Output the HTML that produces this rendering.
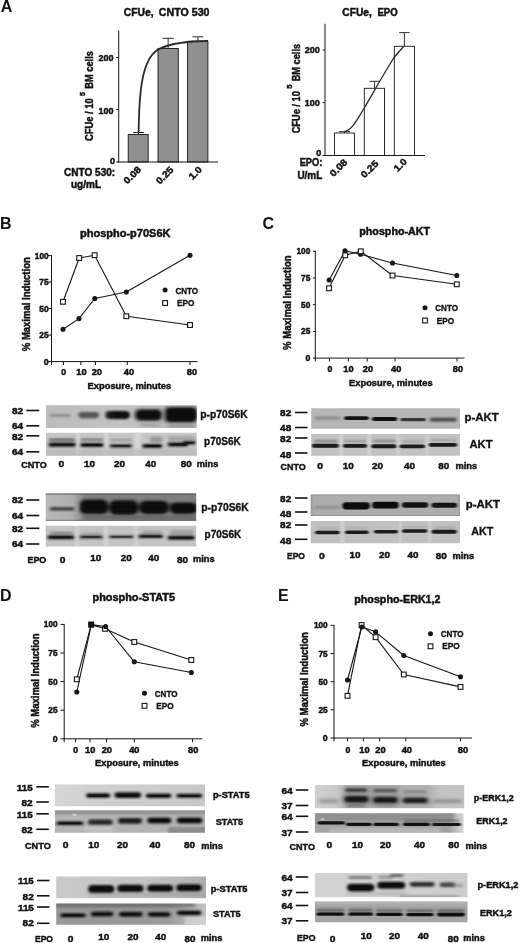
<!DOCTYPE html>
<html lang="en">
<head>
<meta charset="utf-8">
<title>Figure: CFUe and phospho-signalling, CNTO 530 vs EPO</title>
<style>
html,body{margin:0;padding:0;background:#fff;}
body{width:520px;height:943px;overflow:hidden;}
svg{display:block;}
text{font-family:"Liberation Sans",sans-serif;fill:#111;}
text.b{font-weight:bold;stroke:#111;stroke-width:0.45px;}
text.p{font-weight:bold;}
text.a{font-weight:bold;stroke:#111;stroke-width:0.35px;}
</style>
</head>
<body>
<svg width="520" height="943" viewBox="0 0 520 943">
<defs>
<filter id="bl1" x="-20%" y="-80%" width="140%" height="260%"><feGaussianBlur stdDeviation="0.9 0.7"/></filter>
<filter id="bl2" x="-20%" y="-80%" width="140%" height="260%"><feGaussianBlur stdDeviation="1.6 1.1"/></filter>
<filter id="bl3" x="-20%" y="-60%" width="140%" height="220%"><feGaussianBlur stdDeviation="2.2 1.8"/></filter>
<clipPath id="c0"><rect x="46.00" y="405.20" width="150.80" height="22.80"/></clipPath>
<linearGradient id="g0" x1="0" y1="0" x2="1" y2="0"><stop offset="0" stop-color="#bcbcbc"/><stop offset="0.5" stop-color="#c2c2c2"/><stop offset="1" stop-color="#b4b4b4"/></linearGradient>
<clipPath id="c1"><rect x="46.00" y="432.70" width="150.80" height="23.00"/></clipPath>
<clipPath id="c2"><rect x="45.70" y="493.60" width="150.50" height="27.20"/></clipPath>
<linearGradient id="g2" x1="0" y1="0" x2="1" y2="0"><stop offset="0" stop-color="#b9b9b9"/><stop offset="0.18" stop-color="#afafaf"/><stop offset="0.27" stop-color="#828282"/><stop offset="1" stop-color="#7e7e7e"/></linearGradient>
<clipPath id="c3"><rect x="45.70" y="525.80" width="150.50" height="20.80"/></clipPath>
<clipPath id="c4"><rect x="311.20" y="408.30" width="148.80" height="20.50"/></clipPath>
<clipPath id="c5"><rect x="311.20" y="434.00" width="148.80" height="21.70"/></clipPath>
<clipPath id="c6"><rect x="310.70" y="494.60" width="149.30" height="21.30"/></clipPath>
<clipPath id="c7"><rect x="310.70" y="521.00" width="149.30" height="22.20"/></clipPath>
<clipPath id="c8"><rect x="54.90" y="784.60" width="150.10" height="21.70"/></clipPath>
<linearGradient id="g8" x1="0" y1="0" x2="1" y2="0"><stop offset="0" stop-color="#d6d6d6"/><stop offset="0.3" stop-color="#cfcfcf"/><stop offset="1" stop-color="#c8c8c8"/></linearGradient>
<clipPath id="c9"><rect x="54.90" y="810.20" width="150.10" height="22.60"/></clipPath>
<clipPath id="c10"><rect x="56.20" y="876.60" width="149.80" height="21.60"/></clipPath>
<linearGradient id="g10" x1="0" y1="0" x2="1" y2="0"><stop offset="0" stop-color="#cacaca"/><stop offset="0.6" stop-color="#c2c2c2"/><stop offset="0.95" stop-color="#b2b2b2"/><stop offset="1" stop-color="#a8a8a8"/></linearGradient>
<clipPath id="c11"><rect x="56.20" y="903.50" width="149.80" height="21.30"/></clipPath>
<linearGradient id="g11" x1="0" y1="0" x2="1" y2="0"><stop offset="0" stop-color="#979797"/><stop offset="0.75" stop-color="#9a9a9a"/><stop offset="0.9" stop-color="#b8b8b8"/><stop offset="1" stop-color="#c0c0c0"/></linearGradient>
<clipPath id="c12"><rect x="314.90" y="784.90" width="149.30" height="23.30"/></clipPath>
<linearGradient id="g12" x1="0" y1="0" x2="1" y2="0"><stop offset="0" stop-color="#d0d0d0"/><stop offset="0.15" stop-color="#c9c9c9"/><stop offset="0.22" stop-color="#b2b2b2"/><stop offset="0.75" stop-color="#b0b0b0"/><stop offset="0.82" stop-color="#c2c2c2"/><stop offset="1" stop-color="#c4c4c4"/></linearGradient>
<clipPath id="c13"><rect x="314.90" y="813.20" width="148.70" height="19.60"/></clipPath>
<linearGradient id="g13" x1="0" y1="0" x2="1" y2="0"><stop offset="0" stop-color="#a6a6a6"/><stop offset="0.9" stop-color="#a2a2a2"/><stop offset="0.96" stop-color="#c8c8c8"/><stop offset="1" stop-color="#dadada"/></linearGradient>
<clipPath id="c14"><rect x="314.90" y="872.90" width="152.60" height="24.30"/></clipPath>
<linearGradient id="g14" x1="0" y1="0" x2="1" y2="0"><stop offset="0" stop-color="#d4d4d4"/><stop offset="0.5" stop-color="#d0d0d0"/><stop offset="1" stop-color="#cccccc"/></linearGradient>
<clipPath id="c15"><rect x="314.90" y="901.50" width="152.60" height="20.80"/></clipPath>
</defs>
<rect width="520" height="943" fill="#fff"/>
<text class="b" x="123.80" y="15.80" font-size="10.3" textLength="29.80" lengthAdjust="spacingAndGlyphs">CFUe,</text>
<text class="b" x="158.80" y="15.80" font-size="10.3" textLength="50.70" lengthAdjust="spacingAndGlyphs">CNTO 530</text>
<line x1="138.50" y1="132.50" x2="138.50" y2="134.50" stroke="#161616" stroke-width="0.9" stroke-linecap="butt"/>
<line x1="133.00" y1="132.50" x2="144.00" y2="132.50" stroke="#161616" stroke-width="0.9" stroke-linecap="butt"/>
<rect x="128.20" y="134.50" width="20.00" height="27.50" fill="#8f8f8f" stroke="#161616" stroke-width="0.9"/>
<line x1="168.15" y1="38.30" x2="168.15" y2="48.50" stroke="#161616" stroke-width="0.9" stroke-linecap="butt"/>
<line x1="162.50" y1="38.30" x2="173.80" y2="38.30" stroke="#161616" stroke-width="0.9" stroke-linecap="butt"/>
<rect x="158.00" y="48.50" width="20.30" height="113.50" fill="#8f8f8f" stroke="#161616" stroke-width="0.9"/>
<line x1="197.95" y1="36.80" x2="197.95" y2="41.30" stroke="#161616" stroke-width="0.9" stroke-linecap="butt"/>
<line x1="192.60" y1="36.80" x2="203.30" y2="36.80" stroke="#161616" stroke-width="0.9" stroke-linecap="butt"/>
<rect x="187.60" y="41.30" width="20.30" height="120.70" fill="#8f8f8f" stroke="#161616" stroke-width="0.9"/>
<path d="M138.6 132.5 C139.2 95 141 60 158 49.5 C170 43.5 190 41 208 41" fill="none" stroke="#2a2a2a" stroke-width="1.8"/>
<line x1="118.70" y1="30.50" x2="118.70" y2="162.50" stroke="#161616" stroke-width="1.0" stroke-linecap="butt"/>
<line x1="118.20" y1="162.00" x2="218.00" y2="162.00" stroke="#161616" stroke-width="1.0" stroke-linecap="butt"/>
<line x1="116.30" y1="162.00" x2="118.70" y2="162.00" stroke="#161616" stroke-width="1.0" stroke-linecap="butt"/>
<text class="b" x="115.00" y="163.60" font-size="9.0" text-anchor="end">0</text>
<line x1="116.30" y1="109.60" x2="118.70" y2="109.60" stroke="#161616" stroke-width="1.0" stroke-linecap="butt"/>
<text class="b" x="113.50" y="113.60" font-size="9.0" text-anchor="end">100</text>
<line x1="116.30" y1="57.50" x2="118.70" y2="57.50" stroke="#161616" stroke-width="1.0" stroke-linecap="butt"/>
<text class="b" x="113.50" y="61.00" font-size="9.0" text-anchor="end">200</text>
<text class="b" x="92.80" y="141.00" font-size="10.3" textLength="42.80" lengthAdjust="spacingAndGlyphs" transform="rotate(-90 92.80 141.00)">CFUe / 10</text>
<text class="b" x="84.60" y="95.90" font-size="7.3" textLength="4.00" lengthAdjust="spacingAndGlyphs" transform="rotate(-90 84.60 95.90)">5</text>
<text class="b" x="92.80" y="88.80" font-size="10.3" textLength="37.70" lengthAdjust="spacingAndGlyphs" transform="rotate(-90 92.80 88.80)">BM cells</text>
<text class="b" x="64.00" y="176.10" font-size="10.2" textLength="51.20" lengthAdjust="spacingAndGlyphs">CNTO 530:</text>
<text class="b" x="71.00" y="188.20" font-size="10.2" textLength="30.00" lengthAdjust="spacingAndGlyphs">ug/mL</text>
<text class="b" x="127.20" y="184.60" font-size="9.3" textLength="20.50" lengthAdjust="spacingAndGlyphs" transform="rotate(-45 127.20 184.60)">0.08</text>
<text class="b" x="159.70" y="184.80" font-size="9.3" textLength="20.50" lengthAdjust="spacingAndGlyphs" transform="rotate(-45 159.70 184.80)">0.25</text>
<text class="b" x="192.60" y="180.30" font-size="9.3" textLength="14.20" lengthAdjust="spacingAndGlyphs" transform="rotate(-45 192.60 180.30)">1.0</text>
<text class="b" x="342.30" y="15.70" font-size="10.3" textLength="29.50" lengthAdjust="spacingAndGlyphs">CFUe,</text>
<text class="b" x="377.40" y="15.70" font-size="10.3" textLength="20.30" lengthAdjust="spacingAndGlyphs">EPO</text>
<line x1="344.50" y1="131.60" x2="344.50" y2="133.00" stroke="#161616" stroke-width="0.9" stroke-linecap="butt"/>
<line x1="339.00" y1="131.60" x2="350.00" y2="131.60" stroke="#161616" stroke-width="0.9" stroke-linecap="butt"/>
<rect x="334.50" y="133.00" width="20.00" height="22.50" fill="#ffffff" stroke="#161616" stroke-width="0.9"/>
<line x1="374.55" y1="81.30" x2="374.55" y2="88.30" stroke="#161616" stroke-width="0.9" stroke-linecap="butt"/>
<line x1="369.50" y1="81.30" x2="379.60" y2="81.30" stroke="#161616" stroke-width="0.9" stroke-linecap="butt"/>
<rect x="364.30" y="88.30" width="20.20" height="67.20" fill="#ffffff" stroke="#161616" stroke-width="0.9"/>
<line x1="404.40" y1="32.60" x2="404.40" y2="46.30" stroke="#161616" stroke-width="0.9" stroke-linecap="butt"/>
<line x1="399.20" y1="32.60" x2="409.60" y2="32.60" stroke="#161616" stroke-width="0.9" stroke-linecap="butt"/>
<rect x="394.30" y="46.30" width="20.20" height="109.20" fill="#ffffff" stroke="#161616" stroke-width="0.9"/>
<path d="M344 131.6 C352 131 358 118 364.3 108 C372 95 380 80 394 57.5 L403.8 46.3" fill="none" stroke="#2a2a2a" stroke-width="1.3"/>
<line x1="325.00" y1="23.80" x2="325.00" y2="156.00" stroke="#161616" stroke-width="1.0" stroke-linecap="butt"/>
<line x1="324.50" y1="155.50" x2="425.00" y2="155.50" stroke="#161616" stroke-width="1.0" stroke-linecap="butt"/>
<line x1="322.60" y1="155.50" x2="325.00" y2="155.50" stroke="#161616" stroke-width="1.0" stroke-linecap="butt"/>
<text class="b" x="321.30" y="155.90" font-size="9.0" text-anchor="end">0</text>
<line x1="322.60" y1="102.60" x2="325.00" y2="102.60" stroke="#161616" stroke-width="1.0" stroke-linecap="butt"/>
<text class="b" x="319.80" y="106.10" font-size="9.0" text-anchor="end">100</text>
<line x1="322.60" y1="50.00" x2="325.00" y2="50.00" stroke="#161616" stroke-width="1.0" stroke-linecap="butt"/>
<text class="b" x="319.80" y="53.40" font-size="9.0" text-anchor="end">200</text>
<text class="b" x="299.70" y="133.30" font-size="10.3" textLength="42.10" lengthAdjust="spacingAndGlyphs" transform="rotate(-90 299.70 133.30)">CFUe / 10</text>
<text class="b" x="291.80" y="88.80" font-size="7.3" textLength="4.20" lengthAdjust="spacingAndGlyphs" transform="rotate(-90 291.80 88.80)">5</text>
<text class="b" x="299.70" y="81.30" font-size="10.3" textLength="37.40" lengthAdjust="spacingAndGlyphs" transform="rotate(-90 299.70 81.30)">BM cells</text>
<text class="b" x="299.70" y="166.10" font-size="10.0" textLength="22.60" lengthAdjust="spacingAndGlyphs">EPO:</text>
<text class="b" x="297.40" y="179.00" font-size="10.0" textLength="24.90" lengthAdjust="spacingAndGlyphs">U/mL</text>
<text class="b" x="333.50" y="177.30" font-size="9.3" textLength="20.50" lengthAdjust="spacingAndGlyphs" transform="rotate(-45 333.50 177.30)">0.08</text>
<text class="b" x="364.60" y="178.60" font-size="9.3" textLength="20.50" lengthAdjust="spacingAndGlyphs" transform="rotate(-45 364.60 178.60)">0.25</text>
<text class="b" x="397.60" y="172.30" font-size="9.3" textLength="14.20" lengthAdjust="spacingAndGlyphs" transform="rotate(-45 397.60 172.30)">1.0</text>
<text class="p" x="0.80" y="11.90" font-size="16">A</text>
<text class="p" x="0.00" y="228.50" font-size="16">B</text>
<text class="p" x="262.60" y="228.50" font-size="16">C</text>
<text class="p" x="0.00" y="600.70" font-size="16">D</text>
<text class="p" x="278.00" y="600.50" font-size="16">E</text>
<line x1="51.50" y1="255.10" x2="51.50" y2="362.10" stroke="#161616" stroke-width="1.0" stroke-linecap="butt"/>
<line x1="51.00" y1="361.60" x2="197.50" y2="361.60" stroke="#161616" stroke-width="1.0" stroke-linecap="butt"/>
<line x1="48.10" y1="255.60" x2="51.50" y2="255.60" stroke="#161616" stroke-width="1.0" stroke-linecap="butt"/>
<text class="b" x="48.60" y="258.55" font-size="8.4" text-anchor="end" textLength="13.80" lengthAdjust="spacingAndGlyphs">100</text>
<line x1="48.10" y1="282.10" x2="51.50" y2="282.10" stroke="#161616" stroke-width="1.0" stroke-linecap="butt"/>
<text class="b" x="48.60" y="285.05" font-size="8.4" text-anchor="end" textLength="9.30" lengthAdjust="spacingAndGlyphs">75</text>
<line x1="48.10" y1="308.60" x2="51.50" y2="308.60" stroke="#161616" stroke-width="1.0" stroke-linecap="butt"/>
<text class="b" x="48.60" y="311.55" font-size="8.4" text-anchor="end" textLength="9.30" lengthAdjust="spacingAndGlyphs">50</text>
<line x1="48.10" y1="335.10" x2="51.50" y2="335.10" stroke="#161616" stroke-width="1.0" stroke-linecap="butt"/>
<text class="b" x="48.60" y="338.05" font-size="8.4" text-anchor="end" textLength="9.30" lengthAdjust="spacingAndGlyphs">25</text>
<line x1="48.10" y1="361.60" x2="51.50" y2="361.60" stroke="#161616" stroke-width="1.0" stroke-linecap="butt"/>
<text class="b" x="48.60" y="364.55" font-size="8.4" text-anchor="end" textLength="4.90" lengthAdjust="spacingAndGlyphs">0</text>
<line x1="51.50" y1="361.60" x2="51.50" y2="365.00" stroke="#161616" stroke-width="1.0" stroke-linecap="butt"/>
<line x1="63.50" y1="361.60" x2="63.50" y2="365.00" stroke="#161616" stroke-width="1.0" stroke-linecap="butt"/>
<line x1="80.80" y1="361.60" x2="80.80" y2="365.00" stroke="#161616" stroke-width="1.0" stroke-linecap="butt"/>
<line x1="95.50" y1="361.60" x2="95.50" y2="365.00" stroke="#161616" stroke-width="1.0" stroke-linecap="butt"/>
<line x1="127.30" y1="361.60" x2="127.30" y2="365.00" stroke="#161616" stroke-width="1.0" stroke-linecap="butt"/>
<line x1="190.00" y1="361.60" x2="190.00" y2="365.00" stroke="#161616" stroke-width="1.0" stroke-linecap="butt"/>
<text class="b" x="61.15" y="375.40" font-size="8.4" textLength="4.90" lengthAdjust="spacingAndGlyphs">0</text>
<text class="b" x="76.25" y="375.40" font-size="8.4" textLength="10.30" lengthAdjust="spacingAndGlyphs">10</text>
<text class="b" x="91.65" y="375.40" font-size="8.4" textLength="10.30" lengthAdjust="spacingAndGlyphs">20</text>
<text class="b" x="123.85" y="375.40" font-size="8.4" textLength="10.30" lengthAdjust="spacingAndGlyphs">40</text>
<text class="b" x="186.85" y="375.40" font-size="8.4" textLength="10.30" lengthAdjust="spacingAndGlyphs">80</text>
<text class="b" x="80.00" y="237.00" font-size="10.0" textLength="90.50" lengthAdjust="spacingAndGlyphs">phospho-p70S6K</text>
<text class="b" x="30.20" y="351.20" font-size="10.0" textLength="94.00" lengthAdjust="spacingAndGlyphs" transform="rotate(-90 30.20 351.20)">% Maximal Induction</text>
<text class="b" x="87.50" y="389.20" font-size="9.6" textLength="83.80" lengthAdjust="spacingAndGlyphs">Exposure, minutes</text>
<polyline fill="none" stroke="#161616" stroke-width="1.1" stroke-linejoin="round" points="63.00,329.30 79.00,318.60 94.80,298.50 126.30,292.00 190.00,255.20"/>
<polyline fill="none" stroke="#161616" stroke-width="1.1" stroke-linejoin="round" points="63.00,301.80 79.20,258.00 94.60,255.20 126.30,316.20 190.00,325.00"/>
<circle cx="63.00" cy="329.30" r="2.55" fill="#161616"/>
<circle cx="79.00" cy="318.60" r="2.55" fill="#161616"/>
<circle cx="94.80" cy="298.50" r="2.55" fill="#161616"/>
<circle cx="126.30" cy="292.00" r="2.55" fill="#161616"/>
<circle cx="190.00" cy="255.20" r="2.55" fill="#161616"/>
<rect x="60.60" y="299.40" width="4.8" height="4.8" fill="#fff" stroke="#161616" stroke-width="1.1"/>
<rect x="76.80" y="255.60" width="4.8" height="4.8" fill="#fff" stroke="#161616" stroke-width="1.1"/>
<rect x="92.20" y="252.80" width="4.8" height="4.8" fill="#fff" stroke="#161616" stroke-width="1.1"/>
<rect x="123.90" y="313.80" width="4.8" height="4.8" fill="#fff" stroke="#161616" stroke-width="1.1"/>
<rect x="187.60" y="322.60" width="4.8" height="4.8" fill="#fff" stroke="#161616" stroke-width="1.1"/>
<circle cx="165.10" cy="290.10" r="2.5" fill="#161616"/>
<rect x="162.70" y="300.60" width="4.8" height="4.8" fill="#fff" stroke="#161616" stroke-width="1.1"/>
<text class="a" x="175.40" y="293.60" font-size="8.8" textLength="22.70" lengthAdjust="spacingAndGlyphs">CNTO</text>
<text class="a" x="176.90" y="306.00" font-size="8.8" textLength="17.40" lengthAdjust="spacingAndGlyphs">EPO</text>
<line x1="315.30" y1="250.80" x2="315.30" y2="358.60" stroke="#161616" stroke-width="1.0" stroke-linecap="butt"/>
<line x1="314.80" y1="358.10" x2="464.50" y2="358.10" stroke="#161616" stroke-width="1.0" stroke-linecap="butt"/>
<line x1="312.90" y1="251.30" x2="315.30" y2="251.30" stroke="#161616" stroke-width="1.0" stroke-linecap="butt"/>
<text class="b" x="310.30" y="254.25" font-size="8.4" text-anchor="end" textLength="13.80" lengthAdjust="spacingAndGlyphs">100</text>
<line x1="312.90" y1="278.00" x2="315.30" y2="278.00" stroke="#161616" stroke-width="1.0" stroke-linecap="butt"/>
<text class="b" x="310.30" y="280.95" font-size="8.4" text-anchor="end" textLength="9.30" lengthAdjust="spacingAndGlyphs">75</text>
<line x1="312.90" y1="304.70" x2="315.30" y2="304.70" stroke="#161616" stroke-width="1.0" stroke-linecap="butt"/>
<text class="b" x="310.30" y="307.65" font-size="8.4" text-anchor="end" textLength="9.30" lengthAdjust="spacingAndGlyphs">50</text>
<line x1="312.90" y1="331.40" x2="315.30" y2="331.40" stroke="#161616" stroke-width="1.0" stroke-linecap="butt"/>
<text class="b" x="310.30" y="334.35" font-size="8.4" text-anchor="end" textLength="9.30" lengthAdjust="spacingAndGlyphs">25</text>
<line x1="312.90" y1="358.10" x2="315.30" y2="358.10" stroke="#161616" stroke-width="1.0" stroke-linecap="butt"/>
<text class="b" x="310.30" y="361.05" font-size="8.4" text-anchor="end" textLength="4.90" lengthAdjust="spacingAndGlyphs">0</text>
<line x1="315.30" y1="358.10" x2="315.30" y2="361.50" stroke="#161616" stroke-width="1.0" stroke-linecap="butt"/>
<line x1="329.40" y1="358.10" x2="329.40" y2="361.50" stroke="#161616" stroke-width="1.0" stroke-linecap="butt"/>
<line x1="348.30" y1="358.10" x2="348.30" y2="361.50" stroke="#161616" stroke-width="1.0" stroke-linecap="butt"/>
<line x1="367.20" y1="358.10" x2="367.20" y2="361.50" stroke="#161616" stroke-width="1.0" stroke-linecap="butt"/>
<line x1="395.00" y1="358.10" x2="395.00" y2="361.50" stroke="#161616" stroke-width="1.0" stroke-linecap="butt"/>
<line x1="457.00" y1="358.10" x2="457.00" y2="361.50" stroke="#161616" stroke-width="1.0" stroke-linecap="butt"/>
<text class="b" x="327.55" y="371.80" font-size="8.4" textLength="4.90" lengthAdjust="spacingAndGlyphs">0</text>
<text class="b" x="343.25" y="371.80" font-size="8.4" textLength="10.30" lengthAdjust="spacingAndGlyphs">10</text>
<text class="b" x="362.85" y="371.80" font-size="8.4" textLength="10.30" lengthAdjust="spacingAndGlyphs">20</text>
<text class="b" x="391.05" y="371.80" font-size="8.4" textLength="10.30" lengthAdjust="spacingAndGlyphs">40</text>
<text class="b" x="452.85" y="371.80" font-size="8.4" textLength="10.30" lengthAdjust="spacingAndGlyphs">80</text>
<text class="b" x="359.30" y="234.60" font-size="10.0" textLength="70.70" lengthAdjust="spacingAndGlyphs">phospho-AKT</text>
<text class="b" x="290.80" y="349.90" font-size="10.0" textLength="94.50" lengthAdjust="spacingAndGlyphs" transform="rotate(-90 290.80 349.90)">% Maximal Induction</text>
<text class="b" x="349.00" y="386.40" font-size="9.6" textLength="83.60" lengthAdjust="spacingAndGlyphs">Exposure, minutes</text>
<polyline fill="none" stroke="#161616" stroke-width="1.1" stroke-linejoin="round" points="329.20,280.00 345.00,250.80 360.50,254.30 392.50,263.00 456.80,275.50"/>
<polyline fill="none" stroke="#161616" stroke-width="1.1" stroke-linejoin="round" points="329.00,288.30 345.20,255.30 360.80,251.30 392.50,275.50 456.80,284.30"/>
<circle cx="329.20" cy="280.00" r="2.55" fill="#161616"/>
<circle cx="345.00" cy="250.80" r="2.55" fill="#161616"/>
<circle cx="360.50" cy="254.30" r="2.55" fill="#161616"/>
<circle cx="392.50" cy="263.00" r="2.55" fill="#161616"/>
<circle cx="456.80" cy="275.50" r="2.55" fill="#161616"/>
<rect x="326.60" y="285.90" width="4.8" height="4.8" fill="#fff" stroke="#161616" stroke-width="1.1"/>
<rect x="342.80" y="252.90" width="4.8" height="4.8" fill="#fff" stroke="#161616" stroke-width="1.1"/>
<rect x="358.40" y="248.90" width="4.8" height="4.8" fill="#fff" stroke="#161616" stroke-width="1.1"/>
<rect x="390.10" y="273.10" width="4.8" height="4.8" fill="#fff" stroke="#161616" stroke-width="1.1"/>
<rect x="454.40" y="281.90" width="4.8" height="4.8" fill="#fff" stroke="#161616" stroke-width="1.1"/>
<circle cx="425.00" cy="307.80" r="2.5" fill="#161616"/>
<rect x="422.60" y="318.10" width="4.8" height="4.8" fill="#fff" stroke="#161616" stroke-width="1.1"/>
<text class="a" x="435.30" y="311.30" font-size="8.8" textLength="22.70" lengthAdjust="spacingAndGlyphs">CNTO</text>
<text class="a" x="436.80" y="323.50" font-size="8.8" textLength="17.40" lengthAdjust="spacingAndGlyphs">EPO</text>
<line x1="64.20" y1="623.90" x2="64.20" y2="739.30" stroke="#161616" stroke-width="1.0" stroke-linecap="butt"/>
<line x1="63.70" y1="738.80" x2="202.50" y2="738.80" stroke="#161616" stroke-width="1.0" stroke-linecap="butt"/>
<line x1="60.50" y1="624.40" x2="64.20" y2="624.40" stroke="#161616" stroke-width="1.0" stroke-linecap="butt"/>
<text class="b" x="57.60" y="627.35" font-size="8.4" text-anchor="end" textLength="13.80" lengthAdjust="spacingAndGlyphs">100</text>
<line x1="60.50" y1="653.00" x2="64.20" y2="653.00" stroke="#161616" stroke-width="1.0" stroke-linecap="butt"/>
<text class="b" x="57.60" y="655.95" font-size="8.4" text-anchor="end" textLength="9.30" lengthAdjust="spacingAndGlyphs">75</text>
<line x1="60.50" y1="681.60" x2="64.20" y2="681.60" stroke="#161616" stroke-width="1.0" stroke-linecap="butt"/>
<text class="b" x="57.60" y="684.55" font-size="8.4" text-anchor="end" textLength="9.30" lengthAdjust="spacingAndGlyphs">50</text>
<line x1="60.50" y1="710.20" x2="64.20" y2="710.20" stroke="#161616" stroke-width="1.0" stroke-linecap="butt"/>
<text class="b" x="57.60" y="713.15" font-size="8.4" text-anchor="end" textLength="9.30" lengthAdjust="spacingAndGlyphs">25</text>
<line x1="60.50" y1="738.80" x2="64.20" y2="738.80" stroke="#161616" stroke-width="1.0" stroke-linecap="butt"/>
<text class="b" x="57.60" y="741.75" font-size="8.4" text-anchor="end" textLength="4.90" lengthAdjust="spacingAndGlyphs">0</text>
<line x1="64.20" y1="738.80" x2="64.20" y2="742.20" stroke="#161616" stroke-width="1.0" stroke-linecap="butt"/>
<line x1="75.60" y1="738.80" x2="75.60" y2="742.20" stroke="#161616" stroke-width="1.0" stroke-linecap="butt"/>
<line x1="90.00" y1="738.80" x2="90.00" y2="742.20" stroke="#161616" stroke-width="1.0" stroke-linecap="butt"/>
<line x1="106.50" y1="738.80" x2="106.50" y2="742.20" stroke="#161616" stroke-width="1.0" stroke-linecap="butt"/>
<line x1="134.30" y1="738.80" x2="134.30" y2="742.20" stroke="#161616" stroke-width="1.0" stroke-linecap="butt"/>
<line x1="192.50" y1="738.80" x2="192.50" y2="742.20" stroke="#161616" stroke-width="1.0" stroke-linecap="butt"/>
<text class="b" x="73.15" y="753.30" font-size="8.4" textLength="4.90" lengthAdjust="spacingAndGlyphs">0</text>
<text class="b" x="85.05" y="753.30" font-size="8.4" textLength="10.30" lengthAdjust="spacingAndGlyphs">10</text>
<text class="b" x="101.65" y="753.30" font-size="8.4" textLength="10.30" lengthAdjust="spacingAndGlyphs">20</text>
<text class="b" x="129.15" y="753.30" font-size="8.4" textLength="10.30" lengthAdjust="spacingAndGlyphs">40</text>
<text class="b" x="188.05" y="753.30" font-size="8.4" textLength="10.30" lengthAdjust="spacingAndGlyphs">80</text>
<text class="b" x="92.50" y="601.30" font-size="10.0" textLength="82.50" lengthAdjust="spacingAndGlyphs">phospho-STAT5</text>
<text class="b" x="39.50" y="727.80" font-size="10.0" textLength="94.30" lengthAdjust="spacingAndGlyphs" transform="rotate(-90 39.50 727.80)">% Maximal Induction</text>
<text class="b" x="95.00" y="766.30" font-size="9.6" textLength="83.80" lengthAdjust="spacingAndGlyphs">Exposure, minutes</text>
<polyline fill="none" stroke="#161616" stroke-width="1.1" stroke-linejoin="round" points="76.80,692.00 91.30,624.60 105.60,626.50 134.30,661.80 191.30,672.50"/>
<polyline fill="none" stroke="#161616" stroke-width="1.1" stroke-linejoin="round" points="76.80,679.30 91.20,624.60 105.00,628.80 134.30,642.00 191.30,660.00"/>
<rect x="74.40" y="676.90" width="4.8" height="4.8" fill="#fff" stroke="#161616" stroke-width="1.1"/>
<rect x="88.80" y="622.20" width="4.8" height="4.8" fill="#fff" stroke="#161616" stroke-width="1.1"/>
<rect x="102.60" y="626.40" width="4.8" height="4.8" fill="#fff" stroke="#161616" stroke-width="1.1"/>
<rect x="131.90" y="639.60" width="4.8" height="4.8" fill="#fff" stroke="#161616" stroke-width="1.1"/>
<rect x="188.90" y="657.60" width="4.8" height="4.8" fill="#fff" stroke="#161616" stroke-width="1.1"/>
<circle cx="76.80" cy="692.00" r="2.55" fill="#161616"/>
<circle cx="91.30" cy="624.60" r="2.55" fill="#161616"/>
<circle cx="105.60" cy="626.50" r="2.55" fill="#161616"/>
<circle cx="134.30" cy="661.80" r="2.55" fill="#161616"/>
<circle cx="191.30" cy="672.50" r="2.55" fill="#161616"/>
<circle cx="144.50" cy="693.30" r="2.5" fill="#161616"/>
<rect x="142.10" y="703.40" width="4.8" height="4.8" fill="#fff" stroke="#161616" stroke-width="1.1"/>
<text class="a" x="154.80" y="696.80" font-size="8.8" textLength="22.70" lengthAdjust="spacingAndGlyphs">CNTO</text>
<text class="a" x="156.30" y="708.80" font-size="8.8" textLength="17.40" lengthAdjust="spacingAndGlyphs">EPO</text>
<line x1="334.00" y1="624.90" x2="334.00" y2="738.50" stroke="#161616" stroke-width="1.0" stroke-linecap="butt"/>
<line x1="333.50" y1="738.00" x2="472.00" y2="738.00" stroke="#161616" stroke-width="1.0" stroke-linecap="butt"/>
<line x1="330.50" y1="625.40" x2="334.00" y2="625.40" stroke="#161616" stroke-width="1.0" stroke-linecap="butt"/>
<text class="b" x="327.70" y="628.35" font-size="8.4" text-anchor="end" textLength="13.80" lengthAdjust="spacingAndGlyphs">100</text>
<line x1="330.50" y1="653.55" x2="334.00" y2="653.55" stroke="#161616" stroke-width="1.0" stroke-linecap="butt"/>
<text class="b" x="327.70" y="656.50" font-size="8.4" text-anchor="end" textLength="9.30" lengthAdjust="spacingAndGlyphs">75</text>
<line x1="330.50" y1="681.70" x2="334.00" y2="681.70" stroke="#161616" stroke-width="1.0" stroke-linecap="butt"/>
<text class="b" x="327.70" y="684.65" font-size="8.4" text-anchor="end" textLength="9.30" lengthAdjust="spacingAndGlyphs">50</text>
<line x1="330.50" y1="709.85" x2="334.00" y2="709.85" stroke="#161616" stroke-width="1.0" stroke-linecap="butt"/>
<text class="b" x="327.70" y="712.80" font-size="8.4" text-anchor="end" textLength="9.30" lengthAdjust="spacingAndGlyphs">25</text>
<line x1="330.50" y1="738.00" x2="334.00" y2="738.00" stroke="#161616" stroke-width="1.0" stroke-linecap="butt"/>
<text class="b" x="327.70" y="740.95" font-size="8.4" text-anchor="end" textLength="4.90" lengthAdjust="spacingAndGlyphs">0</text>
<line x1="334.00" y1="738.00" x2="334.00" y2="741.40" stroke="#161616" stroke-width="1.0" stroke-linecap="butt"/>
<line x1="347.50" y1="738.00" x2="347.50" y2="741.40" stroke="#161616" stroke-width="1.0" stroke-linecap="butt"/>
<line x1="363.40" y1="738.00" x2="363.40" y2="741.40" stroke="#161616" stroke-width="1.0" stroke-linecap="butt"/>
<line x1="379.60" y1="738.00" x2="379.60" y2="741.40" stroke="#161616" stroke-width="1.0" stroke-linecap="butt"/>
<line x1="405.80" y1="738.00" x2="405.80" y2="741.40" stroke="#161616" stroke-width="1.0" stroke-linecap="butt"/>
<line x1="460.50" y1="738.00" x2="460.50" y2="741.40" stroke="#161616" stroke-width="1.0" stroke-linecap="butt"/>
<text class="b" x="345.55" y="753.30" font-size="8.4" textLength="4.90" lengthAdjust="spacingAndGlyphs">0</text>
<text class="b" x="359.35" y="753.30" font-size="8.4" textLength="10.30" lengthAdjust="spacingAndGlyphs">10</text>
<text class="b" x="375.25" y="753.30" font-size="8.4" textLength="10.30" lengthAdjust="spacingAndGlyphs">20</text>
<text class="b" x="401.65" y="753.30" font-size="8.4" textLength="10.30" lengthAdjust="spacingAndGlyphs">40</text>
<text class="b" x="457.85" y="753.30" font-size="8.4" textLength="10.30" lengthAdjust="spacingAndGlyphs">80</text>
<text class="b" x="354.30" y="603.20" font-size="10.0" textLength="86.20" lengthAdjust="spacingAndGlyphs">phospho-ERK1,2</text>
<text class="b" x="308.10" y="726.50" font-size="10.0" textLength="94.30" lengthAdjust="spacingAndGlyphs" transform="rotate(-90 308.10 726.50)">% Maximal Induction</text>
<text class="b" x="362.00" y="766.30" font-size="9.6" textLength="83.80" lengthAdjust="spacingAndGlyphs">Exposure, minutes</text>
<polyline fill="none" stroke="#161616" stroke-width="1.1" stroke-linejoin="round" points="347.50,680.00 361.80,627.00 375.60,631.80 403.80,655.50 460.50,676.80"/>
<polyline fill="none" stroke="#161616" stroke-width="1.1" stroke-linejoin="round" points="347.50,695.80 361.60,625.00 375.60,637.20 403.80,674.50 460.50,686.90"/>
<rect x="345.10" y="693.40" width="4.8" height="4.8" fill="#fff" stroke="#161616" stroke-width="1.1"/>
<rect x="359.20" y="622.60" width="4.8" height="4.8" fill="#fff" stroke="#161616" stroke-width="1.1"/>
<rect x="373.20" y="634.80" width="4.8" height="4.8" fill="#fff" stroke="#161616" stroke-width="1.1"/>
<rect x="401.40" y="672.10" width="4.8" height="4.8" fill="#fff" stroke="#161616" stroke-width="1.1"/>
<rect x="458.10" y="684.50" width="4.8" height="4.8" fill="#fff" stroke="#161616" stroke-width="1.1"/>
<circle cx="347.50" cy="680.00" r="2.55" fill="#161616"/>
<circle cx="361.80" cy="627.00" r="2.55" fill="#161616"/>
<circle cx="375.60" cy="631.80" r="2.55" fill="#161616"/>
<circle cx="403.80" cy="655.50" r="2.55" fill="#161616"/>
<circle cx="460.50" cy="676.80" r="2.55" fill="#161616"/>
<circle cx="430.50" cy="633.80" r="2.5" fill="#161616"/>
<rect x="428.10" y="643.90" width="4.8" height="4.8" fill="#fff" stroke="#161616" stroke-width="1.1"/>
<text class="a" x="440.80" y="637.30" font-size="8.8" textLength="22.70" lengthAdjust="spacingAndGlyphs">CNTO</text>
<text class="a" x="442.30" y="649.30" font-size="8.8" textLength="17.40" lengthAdjust="spacingAndGlyphs">EPO</text>
<rect x="88.95" y="622.30" width="4.6" height="4.6" fill="#161616" stroke="#161616" stroke-width="1.1"/>
<g clip-path="url(#c0)">
<rect x="45.00" y="404.20" width="152.80" height="24.80" fill="url(#g0)"/>
<rect x="50.00" y="414.30" width="20.50" height="2.40" rx="1.20" fill="#444" opacity="0.45" filter="url(#bl2)"/>
<rect x="78.50" y="412.00" width="20.50" height="6.20" rx="3.10" fill="#333" opacity="0.75" filter="url(#bl2)"/>
<rect x="105.50" y="411.00" width="24.00" height="8.00" rx="4.00" fill="#111" opacity="0.93" filter="url(#bl2)"/>
<rect x="112.00" y="412.50" width="17.00" height="5.00" rx="2.50" fill="#0c0c0c" opacity="0.8" filter="url(#bl2)"/>
<rect x="135.50" y="409.60" width="26.00" height="11.00" rx="4.00" fill="#0c0c0c" opacity="1" filter="url(#bl3)"/>
<rect x="138.00" y="411.35" width="22.00" height="7.50" rx="3.75" fill="#0c0c0c" opacity="0.9" filter="url(#bl2)"/>
<rect x="165.00" y="407.30" width="31.50" height="15.00" rx="4.00" fill="#0c0c0c" opacity="1" filter="url(#bl3)"/>
<rect x="168.00" y="409.30" width="28.00" height="11.00" rx="4.00" fill="#0c0c0c" opacity="0.95" filter="url(#bl2)"/>
<rect x="140.00" y="424.00" width="20.00" height="2.00" rx="1.00" fill="#555" opacity="0.35" filter="url(#bl2)"/>
<rect x="168.00" y="425.00" width="26.00" height="2.00" rx="1.00" fill="#555" opacity="0.45" filter="url(#bl2)"/>
</g>
<g clip-path="url(#c1)">
<rect x="45.00" y="431.70" width="152.80" height="25.00" fill="#c6c6c6"/>
<rect x="76" y="432" width="4" height="24" fill="#dcdcdc" opacity="0.7" filter="url(#bl2)"/><rect x="104" y="432" width="5" height="24" fill="#dcdcdc" opacity="0.7" filter="url(#bl2)"/><rect x="134" y="432" width="7" height="24" fill="#dcdcdc" opacity="0.7" filter="url(#bl2)"/><rect x="46" y="449" width="152" height="8" fill="#b4b4b4" opacity="0.5" filter="url(#bl2)"/>
<rect x="49.00" y="438.50" width="26.00" height="2.60" rx="1.30" fill="#444" opacity="0.8" filter="url(#bl2)"/>
<rect x="80.50" y="438.60" width="22.50" height="2.40" rx="1.20" fill="#555" opacity="0.7" filter="url(#bl2)"/>
<rect x="110.00" y="438.90" width="22.00" height="2.20" rx="1.10" fill="#666" opacity="0.55" filter="url(#bl2)"/>
<rect x="150.00" y="436.50" width="12.50" height="6.00" rx="3.00" fill="#777" opacity="0.6" filter="url(#bl2)"/>
<rect x="168.00" y="436.00" width="27.00" height="5.00" rx="2.50" fill="#888" opacity="0.5" filter="url(#bl2)"/>
<rect x="48.40" y="442.60" width="27.40" height="4.20" rx="2.10" fill="#161616" opacity="0.97" filter="url(#bl2)"/>
<rect x="80.20" y="442.90" width="23.40" height="4.00" rx="2.00" fill="#161616" opacity="0.97" filter="url(#bl2)"/>
<rect x="109.60" y="444.20" width="22.70" height="3.20" rx="1.60" fill="#1c1c1c" opacity="0.92" filter="url(#bl2)"/>
<rect x="142.20" y="444.00" width="20.10" height="4.00" rx="2.00" fill="#161616" opacity="0.95" filter="url(#bl2)"/>
<rect x="167.50" y="442.60" width="20.50" height="4.00" rx="2.00" fill="#161616" opacity="0.95" filter="url(#bl2)"/>
<rect x="183.00" y="441.10" width="12.60" height="3.40" rx="1.70" fill="#161616" opacity="0.95" filter="url(#bl2)"/>
<rect x="51.00" y="443.70" width="23.00" height="2.00" rx="1.00" fill="#0c0c0c" opacity="0.8" filter="url(#bl1)"/>
<rect x="82.50" y="443.90" width="19.00" height="2.00" rx="1.00" fill="#0c0c0c" opacity="0.8" filter="url(#bl1)"/>
<rect x="112.00" y="445.00" width="18.00" height="1.60" rx="0.80" fill="#0c0c0c" opacity="0.7" filter="url(#bl1)"/>
<rect x="145.00" y="445.00" width="15.50" height="2.00" rx="1.00" fill="#0c0c0c" opacity="0.8" filter="url(#bl1)"/>
<rect x="170.00" y="443.60" width="17.00" height="2.00" rx="1.00" fill="#0c0c0c" opacity="0.8" filter="url(#bl1)"/>
<rect x="185.00" y="442.10" width="9.00" height="1.60" rx="0.80" fill="#0c0c0c" opacity="0.7" filter="url(#bl1)"/>
</g>
<text class="b" x="23.20" y="413.80" font-size="9.4" text-anchor="end" textLength="11.20" lengthAdjust="spacingAndGlyphs">82</text>
<line x1="26.30" y1="410.50" x2="39.30" y2="410.50" stroke="#111" stroke-width="1.6" stroke-linecap="butt"/>
<text class="b" x="23.20" y="429.30" font-size="9.4" text-anchor="end" textLength="11.20" lengthAdjust="spacingAndGlyphs">64</text>
<line x1="26.30" y1="425.80" x2="39.30" y2="425.80" stroke="#111" stroke-width="1.6" stroke-linecap="butt"/>
<text class="b" x="23.20" y="439.50" font-size="9.4" text-anchor="end" textLength="11.20" lengthAdjust="spacingAndGlyphs">82</text>
<line x1="26.30" y1="435.80" x2="39.30" y2="435.80" stroke="#111" stroke-width="1.6" stroke-linecap="butt"/>
<text class="b" x="23.20" y="455.00" font-size="9.4" text-anchor="end" textLength="11.20" lengthAdjust="spacingAndGlyphs">64</text>
<line x1="26.30" y1="451.80" x2="39.30" y2="451.80" stroke="#111" stroke-width="1.6" stroke-linecap="butt"/>
<text class="b" x="21.30" y="467.50" font-size="9.9" textLength="25.50" lengthAdjust="spacingAndGlyphs">CNTO</text>
<text class="b" x="58.45" y="466.60" font-size="9.3" textLength="5.70" lengthAdjust="spacingAndGlyphs">0</text>
<text class="b" x="84.00" y="466.60" font-size="9.3" textLength="11.00" lengthAdjust="spacingAndGlyphs">10</text>
<text class="b" x="114.00" y="466.60" font-size="9.3" textLength="11.00" lengthAdjust="spacingAndGlyphs">20</text>
<text class="b" x="145.30" y="466.60" font-size="9.3" textLength="11.00" lengthAdjust="spacingAndGlyphs">40</text>
<text class="b" x="180.80" y="466.60" font-size="9.3" textLength="11.00" lengthAdjust="spacingAndGlyphs">80</text>
<text class="b" x="196.70" y="466.60" font-size="9.5" textLength="21.60" lengthAdjust="spacingAndGlyphs">mins</text>
<text class="a" x="200.30" y="417.80" font-size="11" textLength="47.50" lengthAdjust="spacingAndGlyphs">p-p70S6K</text>
<text class="a" x="204.00" y="445.00" font-size="11" textLength="36.80" lengthAdjust="spacingAndGlyphs">p70S6K</text>
<g clip-path="url(#c2)">
<rect x="44.70" y="492.60" width="152.50" height="29.20" fill="url(#g2)"/>
<rect x="44" y="492.8" width="154" height="1.8" fill="#333" opacity="0.6" filter="url(#bl1)"/><rect x="44" y="519.8" width="154" height="1.8" fill="#333" opacity="0.55" filter="url(#bl1)"/>
<rect x="49.80" y="507.20" width="24.70" height="3.40" rx="1.70" fill="#222" opacity="0.85" filter="url(#bl2)"/>
<rect x="80.50" y="499.80" width="26.50" height="14.00" rx="4.00" fill="#0c0c0c" opacity="1" filter="url(#bl3)"/>
<rect x="110.50" y="500.60" width="26.50" height="14.00" rx="4.00" fill="#0c0c0c" opacity="1" filter="url(#bl3)"/>
<rect x="140.50" y="501.00" width="26.70" height="12.80" rx="4.00" fill="#0c0c0c" opacity="1" filter="url(#bl3)"/>
<rect x="171.00" y="502.90" width="25.00" height="10.60" rx="4.00" fill="#0c0c0c" opacity="1" filter="url(#bl3)"/>
<rect x="82.00" y="501.55" width="24.00" height="10.50" rx="4.00" fill="#0c0c0c" opacity="0.95" filter="url(#bl2)"/>
<rect x="112.00" y="502.35" width="24.00" height="10.50" rx="4.00" fill="#0c0c0c" opacity="0.95" filter="url(#bl2)"/>
<rect x="142.00" y="502.65" width="24.00" height="9.50" rx="4.00" fill="#0c0c0c" opacity="0.95" filter="url(#bl2)"/>
<rect x="172.50" y="504.45" width="22.50" height="7.50" rx="3.75" fill="#0c0c0c" opacity="0.95" filter="url(#bl2)"/>
<rect x="82.00" y="504.00" width="114.00" height="7.00" rx="3.50" fill="#0c0c0c" opacity="0.6" filter="url(#bl3)"/>
<rect x="82.00" y="516.00" width="113.00" height="3.00" rx="1.50" fill="#444" opacity="0.45" filter="url(#bl2)"/>
</g>
<g clip-path="url(#c3)">
<rect x="44.70" y="524.80" width="152.50" height="22.80" fill="#c4c4c4"/>
<rect x="75" y="525" width="4" height="23" fill="#dcdcdc" opacity="0.6" filter="url(#bl2)"/><rect x="104" y="525" width="4" height="23" fill="#dcdcdc" opacity="0.6" filter="url(#bl2)"/><rect x="134.5" y="525" width="3.5" height="23" fill="#dcdcdc" opacity="0.6" filter="url(#bl2)"/>
<rect x="50.00" y="531.90" width="23.00" height="2.20" rx="1.10" fill="#555" opacity="0.65" filter="url(#bl2)"/>
<rect x="82.00" y="531.95" width="20.00" height="2.50" rx="1.25" fill="#888" opacity="0.45" filter="url(#bl2)"/>
<rect x="142.00" y="530.50" width="20.00" height="4.00" rx="2.00" fill="#888" opacity="0.55" filter="url(#bl2)"/>
<rect x="170.00" y="530.25" width="24.00" height="4.50" rx="2.25" fill="#888" opacity="0.6" filter="url(#bl2)"/>
<rect x="47.20" y="535.20" width="27.10" height="4.00" rx="2.00" fill="#181818" opacity="0.97" filter="url(#bl2)"/>
<rect x="79.40" y="535.50" width="23.40" height="3.00" rx="1.50" fill="#222" opacity="0.9" filter="url(#bl2)"/>
<rect x="108.80" y="535.50" width="25.00" height="2.60" rx="1.30" fill="#222" opacity="0.88" filter="url(#bl2)"/>
<rect x="138.00" y="534.70" width="25.20" height="3.40" rx="1.70" fill="#181818" opacity="0.94" filter="url(#bl2)"/>
<rect x="167.40" y="535.80" width="27.40" height="4.00" rx="2.00" fill="#181818" opacity="0.96" filter="url(#bl2)"/>
<rect x="50.00" y="536.20" width="22.50" height="2.00" rx="1.00" fill="#0c0c0c" opacity="0.8" filter="url(#bl1)"/>
<rect x="82.00" y="536.25" width="19.00" height="1.50" rx="0.75" fill="#0c0c0c" opacity="0.7" filter="url(#bl1)"/>
<rect x="111.00" y="536.15" width="21.00" height="1.30" rx="0.65" fill="#0c0c0c" opacity="0.65" filter="url(#bl1)"/>
<rect x="141.00" y="535.55" width="20.00" height="1.70" rx="0.85" fill="#0c0c0c" opacity="0.75" filter="url(#bl1)"/>
<rect x="170.00" y="536.80" width="23.00" height="2.00" rx="1.00" fill="#0c0c0c" opacity="0.8" filter="url(#bl1)"/>
</g>
<text class="b" x="23.20" y="503.30" font-size="9.4" text-anchor="end" textLength="11.20" lengthAdjust="spacingAndGlyphs">82</text>
<line x1="26.30" y1="500.00" x2="39.30" y2="500.00" stroke="#111" stroke-width="1.6" stroke-linecap="butt"/>
<text class="b" x="23.20" y="518.80" font-size="9.4" text-anchor="end" textLength="11.20" lengthAdjust="spacingAndGlyphs">64</text>
<line x1="26.30" y1="515.50" x2="39.30" y2="515.50" stroke="#111" stroke-width="1.6" stroke-linecap="butt"/>
<text class="b" x="23.20" y="531.80" font-size="9.4" text-anchor="end" textLength="11.20" lengthAdjust="spacingAndGlyphs">82</text>
<line x1="26.30" y1="528.30" x2="39.30" y2="528.30" stroke="#111" stroke-width="1.6" stroke-linecap="butt"/>
<text class="b" x="23.20" y="547.00" font-size="9.4" text-anchor="end" textLength="11.20" lengthAdjust="spacingAndGlyphs">64</text>
<line x1="26.30" y1="544.00" x2="39.30" y2="544.00" stroke="#111" stroke-width="1.6" stroke-linecap="butt"/>
<text class="b" x="27.50" y="562.50" font-size="9.9" textLength="18.80" lengthAdjust="spacingAndGlyphs">EPO</text>
<text class="b" x="59.65" y="563.30" font-size="9.3" textLength="5.70" lengthAdjust="spacingAndGlyphs">0</text>
<text class="b" x="90.30" y="561.30" font-size="9.3" textLength="11.00" lengthAdjust="spacingAndGlyphs">10</text>
<text class="b" x="120.80" y="561.30" font-size="9.3" textLength="11.00" lengthAdjust="spacingAndGlyphs">20</text>
<text class="b" x="148.30" y="561.30" font-size="9.3" textLength="11.00" lengthAdjust="spacingAndGlyphs">40</text>
<text class="b" x="177.00" y="562.60" font-size="9.3" textLength="11.00" lengthAdjust="spacingAndGlyphs">80</text>
<text class="b" x="193.00" y="562.20" font-size="9.5" textLength="21.60" lengthAdjust="spacingAndGlyphs">mins</text>
<text class="a" x="201.30" y="511.00" font-size="11" textLength="47.50" lengthAdjust="spacingAndGlyphs">p-p70S6K</text>
<text class="a" x="204.50" y="537.80" font-size="11" textLength="36.80" lengthAdjust="spacingAndGlyphs">p70S6K</text>
<g clip-path="url(#c4)">
<rect x="310.20" y="407.30" width="150.80" height="22.50" fill="#b6b6b6"/>
<rect x="314.80" y="416.80" width="25.20" height="2.80" rx="1.40" fill="#555" opacity="0.5" filter="url(#bl2)"/>
<rect x="344.20" y="416.30" width="24.50" height="3.80" rx="1.90" fill="#0c0c0c" opacity="0.97" filter="url(#bl1)"/>
<rect x="372.00" y="417.10" width="25.20" height="3.80" rx="1.90" fill="#0c0c0c" opacity="0.97" filter="url(#bl1)"/>
<rect x="400.40" y="418.10" width="25.40" height="3.20" rx="1.60" fill="#222" opacity="0.85" filter="url(#bl1)"/>
<rect x="429.80" y="417.80" width="27.00" height="3.80" rx="1.90" fill="#333" opacity="0.85" filter="url(#bl2)"/>
</g>
<g clip-path="url(#c5)">
<rect x="310.20" y="433.00" width="150.80" height="23.70" fill="#c2c2c2"/>
<rect x="339.5" y="433" width="3" height="24" fill="#dedede" opacity="0.7" filter="url(#bl2)"/><rect x="367.5" y="433" width="3.5" height="24" fill="#dedede" opacity="0.7" filter="url(#bl2)"/><rect x="396.5" y="433" width="3" height="24" fill="#dedede" opacity="0.6" filter="url(#bl2)"/><rect x="425.5" y="433" width="3" height="24" fill="#dedede" opacity="0.6" filter="url(#bl2)"/>
<rect x="314.00" y="440.10" width="24.00" height="2.20" rx="1.10" fill="#555" opacity="0.6" filter="url(#bl2)"/>
<rect x="344.00" y="440.30" width="22.00" height="2.20" rx="1.10" fill="#666" opacity="0.5" filter="url(#bl2)"/>
<rect x="373.00" y="439.80" width="23.00" height="2.40" rx="1.20" fill="#555" opacity="0.55" filter="url(#bl2)"/>
<rect x="402.00" y="440.50" width="22.00" height="2.20" rx="1.10" fill="#777" opacity="0.45" filter="url(#bl2)"/>
<rect x="431.00" y="439.10" width="25.00" height="2.20" rx="1.10" fill="#777" opacity="0.45" filter="url(#bl2)"/>
<rect x="311.90" y="443.80" width="27.10" height="4.00" rx="2.00" fill="#141414" opacity="0.97" filter="url(#bl1)"/>
<rect x="342.90" y="443.90" width="24.20" height="3.80" rx="1.90" fill="#141414" opacity="0.97" filter="url(#bl1)"/>
<rect x="371.20" y="444.20" width="25.10" height="4.00" rx="2.00" fill="#141414" opacity="0.97" filter="url(#bl1)"/>
<rect x="399.60" y="444.40" width="25.40" height="3.80" rx="1.90" fill="#141414" opacity="0.97" filter="url(#bl1)"/>
<rect x="428.70" y="442.90" width="28.40" height="3.80" rx="1.90" fill="#141414" opacity="0.97" filter="url(#bl1)"/>
</g>
<text class="b" x="291.30" y="415.80" font-size="9.4" text-anchor="end" textLength="11.20" lengthAdjust="spacingAndGlyphs">82</text>
<line x1="295.00" y1="412.50" x2="307.50" y2="412.50" stroke="#111" stroke-width="1.6" stroke-linecap="butt"/>
<text class="b" x="291.30" y="431.30" font-size="9.4" text-anchor="end" textLength="11.20" lengthAdjust="spacingAndGlyphs">48</text>
<line x1="295.00" y1="427.50" x2="307.50" y2="427.50" stroke="#111" stroke-width="1.6" stroke-linecap="butt"/>
<text class="b" x="291.30" y="441.80" font-size="9.4" text-anchor="end" textLength="11.20" lengthAdjust="spacingAndGlyphs">82</text>
<line x1="295.00" y1="438.00" x2="307.50" y2="438.00" stroke="#111" stroke-width="1.6" stroke-linecap="butt"/>
<text class="b" x="291.30" y="457.50" font-size="9.4" text-anchor="end" textLength="11.20" lengthAdjust="spacingAndGlyphs">48</text>
<line x1="295.00" y1="453.00" x2="307.50" y2="453.00" stroke="#111" stroke-width="1.6" stroke-linecap="butt"/>
<text class="b" x="280.50" y="469.50" font-size="9.9" textLength="25.30" lengthAdjust="spacingAndGlyphs">CNTO</text>
<text class="b" x="317.15" y="469.30" font-size="9.3" textLength="5.70" lengthAdjust="spacingAndGlyphs">0</text>
<text class="b" x="342.80" y="469.30" font-size="9.3" textLength="11.00" lengthAdjust="spacingAndGlyphs">10</text>
<text class="b" x="372.00" y="469.30" font-size="9.3" textLength="11.00" lengthAdjust="spacingAndGlyphs">20</text>
<text class="b" x="404.00" y="469.30" font-size="9.3" textLength="11.00" lengthAdjust="spacingAndGlyphs">40</text>
<text class="b" x="438.30" y="469.30" font-size="9.3" textLength="11.00" lengthAdjust="spacingAndGlyphs">80</text>
<text class="b" x="455.50" y="469.30" font-size="9.5" textLength="21.60" lengthAdjust="spacingAndGlyphs">mins</text>
<text class="a" x="464.50" y="421.30" font-size="11.4" textLength="34.30" lengthAdjust="spacingAndGlyphs">p-AKT</text>
<text class="a" x="469.50" y="447.50" font-size="11.4" textLength="23.00" lengthAdjust="spacingAndGlyphs">AKT</text>
<g clip-path="url(#c6)">
<rect x="309.70" y="493.60" width="151.30" height="23.30" fill="#adadad"/>
<rect x="310.70" y="494.60" width="149.30" height="21.30" fill="none" stroke="#555" stroke-width="1.6" opacity="0.35" filter="url(#bl1)"/>
<rect x="314.80" y="505.90" width="24.50" height="2.60" rx="1.30" fill="#555" opacity="0.4" filter="url(#bl2)"/>
<rect x="342.30" y="502.20" width="27.70" height="7.20" rx="3.60" fill="#0c0c0c" opacity="1" filter="url(#bl1)"/>
<rect x="372.00" y="501.80" width="26.80" height="6.80" rx="3.40" fill="#0c0c0c" opacity="1" filter="url(#bl1)"/>
<rect x="402.00" y="502.30" width="26.20" height="5.40" rx="2.70" fill="#0c0c0c" opacity="0.97" filter="url(#bl1)"/>
<rect x="431.50" y="502.70" width="25.60" height="5.00" rx="2.50" fill="#111" opacity="0.95" filter="url(#bl1)"/>
</g>
<g clip-path="url(#c7)">
<rect x="309.70" y="520.00" width="151.30" height="24.20" fill="#c0c0c0"/>
<rect x="340.5" y="520" width="3.5" height="24" fill="#dedede" opacity="0.6" filter="url(#bl2)"/><rect x="399" y="520" width="2.5" height="24" fill="#dedede" opacity="0.7" filter="url(#bl2)"/><rect x="428.5" y="520" width="2.5" height="24" fill="#dedede" opacity="0.7" filter="url(#bl2)"/>
<rect x="318.00" y="527.30" width="20.00" height="2.40" rx="1.20" fill="#888" opacity="0.35" filter="url(#bl2)"/>
<rect x="315.10" y="530.85" width="24.50" height="3.50" rx="1.75" fill="#141414" opacity="0.96" filter="url(#bl1)"/>
<rect x="345.00" y="530.45" width="23.70" height="3.50" rx="1.75" fill="#141414" opacity="0.96" filter="url(#bl1)"/>
<rect x="374.00" y="530.05" width="24.00" height="3.50" rx="1.75" fill="#141414" opacity="0.96" filter="url(#bl1)"/>
<rect x="402.00" y="529.20" width="25.40" height="3.60" rx="1.80" fill="#141414" opacity="0.96" filter="url(#bl1)"/>
<rect x="431.50" y="529.85" width="25.30" height="3.90" rx="1.95" fill="#141414" opacity="0.97" filter="url(#bl1)"/>
<rect x="346.00" y="527.10" width="22.00" height="2.40" rx="1.20" fill="#888" opacity="0.35" filter="url(#bl2)"/>
<rect x="403.00" y="526.10" width="24.00" height="2.40" rx="1.20" fill="#888" opacity="0.35" filter="url(#bl2)"/>
<rect x="433.00" y="526.50" width="23.00" height="2.60" rx="1.30" fill="#888" opacity="0.4" filter="url(#bl2)"/>
</g>
<text class="b" x="291.30" y="501.80" font-size="9.4" text-anchor="end" textLength="11.20" lengthAdjust="spacingAndGlyphs">82</text>
<line x1="295.00" y1="498.00" x2="307.50" y2="498.00" stroke="#111" stroke-width="1.6" stroke-linecap="butt"/>
<text class="b" x="291.30" y="517.00" font-size="9.4" text-anchor="end" textLength="11.20" lengthAdjust="spacingAndGlyphs">48</text>
<line x1="295.00" y1="512.00" x2="307.50" y2="512.00" stroke="#111" stroke-width="1.6" stroke-linecap="butt"/>
<text class="b" x="291.30" y="528.30" font-size="9.4" text-anchor="end" textLength="11.20" lengthAdjust="spacingAndGlyphs">82</text>
<line x1="295.00" y1="525.00" x2="307.50" y2="525.00" stroke="#111" stroke-width="1.6" stroke-linecap="butt"/>
<text class="b" x="291.30" y="543.80" font-size="9.4" text-anchor="end" textLength="11.20" lengthAdjust="spacingAndGlyphs">48</text>
<line x1="295.00" y1="539.30" x2="307.50" y2="539.30" stroke="#111" stroke-width="1.6" stroke-linecap="butt"/>
<text class="b" x="287.00" y="558.80" font-size="9.9" textLength="18.00" lengthAdjust="spacingAndGlyphs">EPO</text>
<text class="b" x="318.95" y="559.30" font-size="9.3" textLength="5.70" lengthAdjust="spacingAndGlyphs">0</text>
<text class="b" x="349.50" y="557.50" font-size="9.3" textLength="11.00" lengthAdjust="spacingAndGlyphs">10</text>
<text class="b" x="379.00" y="557.50" font-size="9.3" textLength="11.00" lengthAdjust="spacingAndGlyphs">20</text>
<text class="b" x="407.50" y="557.50" font-size="9.3" textLength="11.00" lengthAdjust="spacingAndGlyphs">40</text>
<text class="b" x="435.80" y="559.30" font-size="9.3" textLength="11.00" lengthAdjust="spacingAndGlyphs">80</text>
<text class="b" x="452.50" y="558.60" font-size="9.5" textLength="21.60" lengthAdjust="spacingAndGlyphs">mins</text>
<text class="a" x="465.80" y="507.50" font-size="11.4" textLength="34.30" lengthAdjust="spacingAndGlyphs">p-AKT</text>
<text class="a" x="471.30" y="535.00" font-size="11.4" textLength="22.00" lengthAdjust="spacingAndGlyphs">AKT</text>
<g clip-path="url(#c8)">
<rect x="53.90" y="783.60" width="152.10" height="23.70" fill="url(#g8)"/>
<rect x="86.00" y="793.20" width="24.20" height="4.60" rx="2.30" fill="#111" opacity="0.95" filter="url(#bl2)"/>
<rect x="114.50" y="792.30" width="26.70" height="5.60" rx="2.80" fill="#0c0c0c" opacity="0.97" filter="url(#bl2)"/>
<rect x="118.00" y="794.20" width="20.00" height="2.20" rx="1.10" fill="#0c0c0c" opacity="0.8" filter="url(#bl1)"/>
<rect x="145.80" y="793.60" width="25.50" height="4.40" rx="2.20" fill="#111" opacity="0.95" filter="url(#bl2)"/>
<rect x="176.40" y="793.80" width="25.90" height="4.00" rx="2.00" fill="#111" opacity="0.93" filter="url(#bl2)"/>
<rect x="88.00" y="794.60" width="20.00" height="2.40" rx="1.20" fill="#0c0c0c" opacity="0.7" filter="url(#bl1)"/>
<rect x="148.00" y="794.90" width="21.00" height="2.20" rx="1.10" fill="#0c0c0c" opacity="0.7" filter="url(#bl1)"/>
<rect x="179.00" y="795.00" width="21.00" height="2.00" rx="1.00" fill="#0c0c0c" opacity="0.65" filter="url(#bl1)"/>
</g>
<g clip-path="url(#c9)">
<rect x="53.90" y="809.20" width="152.10" height="24.60" fill="#b4b4b4"/>
<rect x="54" y="809.5" width="152" height="5" fill="#808080" opacity="0.6" filter="url(#bl2)"/><rect x="168" y="827" width="40" height="7" fill="#7c7c7c" opacity="0.7" filter="url(#bl2)"/><rect x="84" y="826" width="30" height="6" fill="#cfcfcf" opacity="0.5" filter="url(#bl2)"/><circle cx="74.5" cy="814.8" r="1.3" fill="#e8e8e8" filter="url(#bl1)"/>
<rect x="56.50" y="821.60" width="27.00" height="3.40" rx="1.70" fill="#0c0c0c" opacity="0.97" filter="url(#bl2)"/>
<rect x="59.00" y="822.40" width="22.00" height="1.80" rx="0.90" fill="#0c0c0c" opacity="0.8" filter="url(#bl1)"/>
<rect x="88.20" y="819.60" width="24.40" height="5.20" rx="2.60" fill="#1c1c1c" opacity="0.93" filter="url(#bl2)"/>
<rect x="118.00" y="817.90" width="24.00" height="5.80" rx="2.90" fill="#141414" opacity="0.95" filter="url(#bl2)"/>
<rect x="147.30" y="817.50" width="24.00" height="6.00" rx="3.00" fill="#111" opacity="0.96" filter="url(#bl2)"/>
<rect x="176.80" y="817.50" width="25.50" height="6.00" rx="3.00" fill="#111" opacity="0.96" filter="url(#bl2)"/>
<rect x="150.00" y="819.40" width="19.00" height="2.20" rx="1.10" fill="#0c0c0c" opacity="0.7" filter="url(#bl1)"/>
<rect x="179.00" y="819.40" width="21.00" height="2.20" rx="1.10" fill="#0c0c0c" opacity="0.7" filter="url(#bl1)"/>
</g>
<text class="b" x="32.60" y="790.50" font-size="9.4" text-anchor="end" textLength="15.80" lengthAdjust="spacingAndGlyphs">115</text>
<line x1="36.30" y1="786.80" x2="48.80" y2="786.80" stroke="#111" stroke-width="1.6" stroke-linecap="butt"/>
<text class="b" x="32.60" y="805.80" font-size="9.4" text-anchor="end" textLength="11.20" lengthAdjust="spacingAndGlyphs">82</text>
<line x1="36.30" y1="802.00" x2="48.80" y2="802.00" stroke="#111" stroke-width="1.6" stroke-linecap="butt"/>
<text class="b" x="32.60" y="817.50" font-size="9.4" text-anchor="end" textLength="15.80" lengthAdjust="spacingAndGlyphs">115</text>
<line x1="36.30" y1="813.80" x2="48.80" y2="813.80" stroke="#111" stroke-width="1.6" stroke-linecap="butt"/>
<text class="b" x="32.60" y="833.00" font-size="9.4" text-anchor="end" textLength="11.20" lengthAdjust="spacingAndGlyphs">82</text>
<line x1="36.30" y1="829.30" x2="48.80" y2="829.30" stroke="#111" stroke-width="1.6" stroke-linecap="butt"/>
<text class="b" x="25.00" y="849.30" font-size="9.9" textLength="25.80" lengthAdjust="spacingAndGlyphs">CNTO</text>
<text class="b" x="62.65" y="848.40" font-size="9.3" textLength="5.70" lengthAdjust="spacingAndGlyphs">0</text>
<text class="b" x="88.30" y="848.40" font-size="9.3" textLength="11.00" lengthAdjust="spacingAndGlyphs">10</text>
<text class="b" x="117.00" y="848.40" font-size="9.3" textLength="11.00" lengthAdjust="spacingAndGlyphs">20</text>
<text class="b" x="149.50" y="848.40" font-size="9.3" textLength="11.00" lengthAdjust="spacingAndGlyphs">40</text>
<text class="b" x="184.00" y="848.40" font-size="9.3" textLength="11.00" lengthAdjust="spacingAndGlyphs">80</text>
<text class="b" x="201.30" y="848.80" font-size="9.5" textLength="21.60" lengthAdjust="spacingAndGlyphs">mins</text>
<text class="b" x="212.90" y="797.70" font-size="9.4" textLength="36.70" lengthAdjust="spacingAndGlyphs">p-STAT5</text>
<text class="b" x="215.80" y="824.60" font-size="9.4" textLength="27.30" lengthAdjust="spacingAndGlyphs">STAT5</text>
<g clip-path="url(#c10)">
<rect x="55.20" y="875.60" width="151.80" height="23.60" fill="url(#g10)"/>
<rect x="88.20" y="885.10" width="26.00" height="7.80" rx="3.90" fill="#0c0c0c" opacity="1" filter="url(#bl2)"/>
<rect x="117.30" y="884.70" width="26.20" height="7.40" rx="3.70" fill="#0c0c0c" opacity="1" filter="url(#bl2)"/>
<rect x="147.30" y="884.80" width="25.70" height="7.00" rx="3.50" fill="#0c0c0c" opacity="1" filter="url(#bl2)"/>
<rect x="176.30" y="884.20" width="25.20" height="7.00" rx="3.50" fill="#0c0c0c" opacity="1" filter="url(#bl2)"/>
<rect x="91.00" y="887.15" width="21.00" height="3.70" rx="1.85" fill="#0c0c0c" opacity="0.85" filter="url(#bl1)"/>
<rect x="120.00" y="886.70" width="21.00" height="3.40" rx="1.70" fill="#0c0c0c" opacity="0.85" filter="url(#bl1)"/>
<rect x="150.00" y="886.70" width="21.00" height="3.20" rx="1.60" fill="#0c0c0c" opacity="0.85" filter="url(#bl1)"/>
<rect x="179.00" y="886.10" width="20.00" height="3.20" rx="1.60" fill="#0c0c0c" opacity="0.85" filter="url(#bl1)"/>
<rect x="88.00" y="893.00" width="114.00" height="3.00" rx="1.50" fill="#777" opacity="0.35" filter="url(#bl3)"/>
</g>
<g clip-path="url(#c11)">
<rect x="55.20" y="902.50" width="151.80" height="23.30" fill="url(#g11)"/>
<rect x="55" y="902.5" width="140" height="5" fill="#5c5c5c" opacity="0.6" filter="url(#bl2)"/><rect x="185" y="917" width="22" height="9" fill="#d8d8d8" opacity="0.7" filter="url(#bl2)"/>
<rect x="60.30" y="913.50" width="25.50" height="3.80" rx="1.90" fill="#0c0c0c" opacity="0.97" filter="url(#bl2)"/>
<rect x="63.00" y="914.50" width="20.00" height="1.80" rx="0.90" fill="#0c0c0c" opacity="0.8" filter="url(#bl1)"/>
<rect x="90.80" y="911.60" width="22.60" height="5.00" rx="2.50" fill="#141414" opacity="0.96" filter="url(#bl2)"/>
<rect x="119.00" y="911.80" width="23.70" height="5.00" rx="2.50" fill="#141414" opacity="0.96" filter="url(#bl2)"/>
<rect x="147.80" y="912.00" width="22.70" height="4.80" rx="2.40" fill="#141414" opacity="0.96" filter="url(#bl2)"/>
<rect x="176.80" y="910.40" width="24.70" height="4.80" rx="2.40" fill="#141414" opacity="0.96" filter="url(#bl2)"/>
<rect x="93.00" y="912.90" width="18.00" height="2.40" rx="1.20" fill="#0c0c0c" opacity="0.7" filter="url(#bl1)"/>
<rect x="121.00" y="913.10" width="19.00" height="2.40" rx="1.20" fill="#0c0c0c" opacity="0.7" filter="url(#bl1)"/>
<rect x="150.00" y="913.30" width="18.00" height="2.20" rx="1.10" fill="#0c0c0c" opacity="0.7" filter="url(#bl1)"/>
<rect x="179.00" y="911.70" width="20.00" height="2.20" rx="1.10" fill="#0c0c0c" opacity="0.7" filter="url(#bl1)"/>
</g>
<text class="b" x="33.80" y="884.30" font-size="9.4" text-anchor="end" textLength="15.80" lengthAdjust="spacingAndGlyphs">115</text>
<line x1="37.00" y1="880.50" x2="49.50" y2="880.50" stroke="#111" stroke-width="1.6" stroke-linecap="butt"/>
<text class="b" x="33.80" y="899.50" font-size="9.4" text-anchor="end" textLength="11.20" lengthAdjust="spacingAndGlyphs">82</text>
<line x1="37.00" y1="895.80" x2="49.50" y2="895.80" stroke="#111" stroke-width="1.6" stroke-linecap="butt"/>
<text class="b" x="33.80" y="910.80" font-size="9.4" text-anchor="end" textLength="15.80" lengthAdjust="spacingAndGlyphs">115</text>
<line x1="37.00" y1="907.00" x2="49.50" y2="907.00" stroke="#111" stroke-width="1.6" stroke-linecap="butt"/>
<text class="b" x="33.80" y="926.30" font-size="9.4" text-anchor="end" textLength="11.20" lengthAdjust="spacingAndGlyphs">82</text>
<line x1="37.00" y1="923.30" x2="49.50" y2="923.30" stroke="#111" stroke-width="1.6" stroke-linecap="butt"/>
<text class="b" x="35.00" y="941.80" font-size="9.9" textLength="18.00" lengthAdjust="spacingAndGlyphs">EPO</text>
<text class="b" x="67.65" y="942.20" font-size="9.3" textLength="5.70" lengthAdjust="spacingAndGlyphs">0</text>
<text class="b" x="98.30" y="940.40" font-size="9.3" textLength="11.00" lengthAdjust="spacingAndGlyphs">10</text>
<text class="b" x="127.50" y="940.20" font-size="9.3" textLength="11.00" lengthAdjust="spacingAndGlyphs">20</text>
<text class="b" x="155.30" y="940.20" font-size="9.3" textLength="11.00" lengthAdjust="spacingAndGlyphs">40</text>
<text class="b" x="184.50" y="942.00" font-size="9.3" textLength="11.00" lengthAdjust="spacingAndGlyphs">80</text>
<text class="b" x="200.80" y="941.20" font-size="9.5" textLength="21.60" lengthAdjust="spacingAndGlyphs">mins</text>
<text class="b" x="210.80" y="891.80" font-size="9.4" textLength="36.70" lengthAdjust="spacingAndGlyphs">p-STAT5</text>
<text class="b" x="213.00" y="916.80" font-size="9.4" textLength="27.60" lengthAdjust="spacingAndGlyphs">STAT5</text>
<g clip-path="url(#c12)">
<rect x="313.90" y="783.90" width="151.30" height="25.30" fill="url(#g12)"/>
<rect x="343.00" y="786.00" width="57.00" height="20.00" rx="4.00" fill="#808080" opacity="0.4" filter="url(#bl3)"/>
<rect x="318.00" y="798.75" width="21.00" height="4.50" rx="2.25" fill="#777" opacity="0.55" filter="url(#bl3)"/>
<rect x="345.10" y="788.30" width="22.10" height="3.60" rx="1.80" fill="#2a2a2a" opacity="0.85" filter="url(#bl2)"/>
<rect x="373.50" y="788.90" width="23.50" height="3.40" rx="1.70" fill="#3a3a3a" opacity="0.75" filter="url(#bl2)"/>
<rect x="403.00" y="790.20" width="24.00" height="3.20" rx="1.60" fill="#666" opacity="0.55" filter="url(#bl2)"/>
<rect x="344.00" y="796.00" width="24.80" height="6.60" rx="3.30" fill="#1a1a1a" opacity="0.95" filter="url(#bl3)"/>
<rect x="372.90" y="796.90" width="25.10" height="6.20" rx="3.10" fill="#1a1a1a" opacity="0.95" filter="url(#bl3)"/>
<rect x="402.20" y="797.50" width="26.10" height="5.80" rx="2.90" fill="#262626" opacity="0.9" filter="url(#bl3)"/>
<rect x="346.00" y="797.50" width="21.00" height="3.60" rx="1.80" fill="#0c0c0c" opacity="0.85" filter="url(#bl2)"/>
<rect x="375.00" y="798.30" width="21.00" height="3.40" rx="1.70" fill="#0c0c0c" opacity="0.85" filter="url(#bl2)"/>
<rect x="404.50" y="798.90" width="21.50" height="3.00" rx="1.50" fill="#111" opacity="0.75" filter="url(#bl2)"/>
<rect x="433.20" y="799.60" width="28.60" height="3.20" rx="1.60" fill="#666" opacity="0.6" filter="url(#bl3)"/>
<rect x="346.00" y="803.50" width="20.00" height="4.00" rx="2.00" fill="#555" opacity="0.55" filter="url(#bl3)"/>
<rect x="375.00" y="804.00" width="21.00" height="3.00" rx="1.50" fill="#666" opacity="0.4" filter="url(#bl3)"/>
</g>
<g clip-path="url(#c13)">
<rect x="313.90" y="812.20" width="150.70" height="21.60" fill="url(#g13)"/>
<rect x="314" y="812" width="140" height="9" fill="#7c7c7c" opacity="0.5" filter="url(#bl2)"/><rect x="330" y="828" width="110" height="6" fill="#c4c4c4" opacity="0.6" filter="url(#bl2)"/><circle cx="322.5" cy="819.3" r="1.2" fill="#e0e0e0" filter="url(#bl1)"/>
<rect x="404.00" y="820.00" width="56.00" height="1.60" rx="0.80" fill="#333" opacity="0.6" filter="url(#bl2)"/>
<rect x="317.40" y="821.20" width="27.60" height="3.40" rx="1.70" fill="#0c0c0c" opacity="0.97" filter="url(#bl1)"/>
<rect x="346.00" y="822.70" width="26.00" height="3.20" rx="1.60" fill="#0c0c0c" opacity="0.97" filter="url(#bl1)"/>
<rect x="373.50" y="822.80" width="25.50" height="3.20" rx="1.60" fill="#0c0c0c" opacity="0.97" filter="url(#bl1)"/>
<rect x="403.00" y="822.70" width="27.00" height="3.40" rx="1.70" fill="#0c0c0c" opacity="0.97" filter="url(#bl1)"/>
<rect x="432.00" y="822.90" width="29.00" height="3.00" rx="1.50" fill="#0c0c0c" opacity="0.95" filter="url(#bl1)"/>
</g>
<text class="b" x="292.60" y="793.80" font-size="9.4" text-anchor="end" textLength="11.20" lengthAdjust="spacingAndGlyphs">64</text>
<line x1="295.80" y1="790.00" x2="308.30" y2="790.00" stroke="#111" stroke-width="1.6" stroke-linecap="butt"/>
<text class="b" x="292.60" y="809.30" font-size="9.4" text-anchor="end" textLength="11.20" lengthAdjust="spacingAndGlyphs">37</text>
<line x1="295.80" y1="805.50" x2="308.30" y2="805.50" stroke="#111" stroke-width="1.6" stroke-linecap="butt"/>
<text class="b" x="292.60" y="820.00" font-size="9.4" text-anchor="end" textLength="11.20" lengthAdjust="spacingAndGlyphs">64</text>
<line x1="295.80" y1="816.30" x2="308.30" y2="816.30" stroke="#111" stroke-width="1.6" stroke-linecap="butt"/>
<text class="b" x="292.60" y="835.80" font-size="9.4" text-anchor="end" textLength="11.20" lengthAdjust="spacingAndGlyphs">37</text>
<line x1="295.80" y1="832.00" x2="308.30" y2="832.00" stroke="#111" stroke-width="1.6" stroke-linecap="butt"/>
<text class="b" x="289.50" y="849.50" font-size="9.9" textLength="25.50" lengthAdjust="spacingAndGlyphs">CNTO</text>
<text class="b" x="326.45" y="848.40" font-size="9.3" textLength="5.70" lengthAdjust="spacingAndGlyphs">0</text>
<text class="b" x="352.00" y="848.40" font-size="9.3" textLength="11.00" lengthAdjust="spacingAndGlyphs">10</text>
<text class="b" x="380.00" y="848.40" font-size="9.3" textLength="11.00" lengthAdjust="spacingAndGlyphs">20</text>
<text class="b" x="414.00" y="848.40" font-size="9.3" textLength="11.00" lengthAdjust="spacingAndGlyphs">40</text>
<text class="b" x="448.30" y="848.40" font-size="9.3" textLength="11.00" lengthAdjust="spacingAndGlyphs">80</text>
<text class="b" x="465.50" y="848.80" font-size="9.5" textLength="21.60" lengthAdjust="spacingAndGlyphs">mins</text>
<text class="b" x="473.80" y="800.80" font-size="9.4" textLength="40.00" lengthAdjust="spacingAndGlyphs">p-ERK1,2</text>
<text class="b" x="476.30" y="824.30" font-size="9.4" textLength="31.30" lengthAdjust="spacingAndGlyphs">ERK1,2</text>
<g clip-path="url(#c14)">
<rect x="313.90" y="871.90" width="154.60" height="26.30" fill="url(#g14)"/>
<rect x="348.40" y="876.00" width="23.70" height="3.00" rx="1.50" fill="#555" opacity="0.7" filter="url(#bl2)"/>
<rect x="378.00" y="875.80" width="15.00" height="2.80" rx="1.40" fill="#666" opacity="0.6" filter="url(#bl2)"/>
<rect x="390.00" y="874.10" width="13.50" height="3.00" rx="1.50" fill="#444" opacity="0.75" filter="url(#bl2)"/>
<rect x="347.00" y="883.80" width="27.30" height="7.60" rx="3.80" fill="#0c0c0c" opacity="1" filter="url(#bl2)"/>
<rect x="350.00" y="885.75" width="22.00" height="3.70" rx="1.85" fill="#0c0c0c" opacity="0.85" filter="url(#bl1)"/>
<rect x="377.20" y="881.70" width="28.00" height="7.00" rx="3.50" fill="#0c0c0c" opacity="1" filter="url(#bl2)"/>
<rect x="380.00" y="883.60" width="23.00" height="3.20" rx="1.60" fill="#0c0c0c" opacity="0.85" filter="url(#bl1)"/>
<rect x="409.80" y="881.90" width="24.70" height="4.80" rx="2.40" fill="#1c1c1c" opacity="0.9" filter="url(#bl2)"/>
<rect x="439.70" y="882.60" width="15.30" height="4.40" rx="2.20" fill="#2a2a2a" opacity="0.85" filter="url(#bl2)"/>
<rect x="450.00" y="884.10" width="13.40" height="2.60" rx="1.30" fill="#666" opacity="0.5" filter="url(#bl2)"/>
<rect x="400.00" y="895.60" width="60.00" height="1.60" rx="0.80" fill="#666" opacity="0.6" filter="url(#bl2)"/>
<rect x="346.00" y="892.00" width="60.00" height="3.00" rx="1.50" fill="#888" opacity="0.35" filter="url(#bl3)"/>
</g>
<g clip-path="url(#c15)">
<rect x="313.90" y="900.50" width="154.60" height="22.80" fill="#a4a4a4"/>
<rect x="314" y="900.5" width="155" height="4" fill="#c0c0c0" opacity="0.6" filter="url(#bl2)"/>
<rect x="316.50" y="909.20" width="27.80" height="2.20" rx="1.10" fill="#333" opacity="0.7" filter="url(#bl2)"/>
<rect x="348.40" y="909.20" width="24.50" height="2.20" rx="1.10" fill="#333" opacity="0.7" filter="url(#bl2)"/>
<rect x="376.20" y="909.40" width="26.40" height="2.20" rx="1.10" fill="#333" opacity="0.7" filter="url(#bl2)"/>
<rect x="406.20" y="909.70" width="27.50" height="2.20" rx="1.10" fill="#333" opacity="0.7" filter="url(#bl2)"/>
<rect x="437.00" y="909.70" width="28.00" height="2.20" rx="1.10" fill="#333" opacity="0.7" filter="url(#bl2)"/>
<rect x="316.50" y="912.60" width="27.80" height="3.20" rx="1.60" fill="#0c0c0c" opacity="0.98" filter="url(#bl1)"/>
<rect x="348.40" y="912.60" width="24.50" height="3.20" rx="1.60" fill="#0c0c0c" opacity="0.98" filter="url(#bl1)"/>
<rect x="376.20" y="912.80" width="26.40" height="3.20" rx="1.60" fill="#0c0c0c" opacity="0.98" filter="url(#bl1)"/>
<rect x="406.20" y="912.90" width="27.50" height="3.40" rx="1.70" fill="#0c0c0c" opacity="0.98" filter="url(#bl1)"/>
<rect x="437.00" y="912.80" width="28.00" height="3.60" rx="1.80" fill="#0c0c0c" opacity="0.98" filter="url(#bl1)"/>
</g>
<text class="b" x="292.60" y="880.80" font-size="9.4" text-anchor="end" textLength="11.20" lengthAdjust="spacingAndGlyphs">64</text>
<line x1="295.80" y1="877.00" x2="308.30" y2="877.00" stroke="#111" stroke-width="1.6" stroke-linecap="butt"/>
<text class="b" x="292.60" y="896.30" font-size="9.4" text-anchor="end" textLength="11.20" lengthAdjust="spacingAndGlyphs">37</text>
<line x1="295.80" y1="892.50" x2="308.30" y2="892.50" stroke="#111" stroke-width="1.6" stroke-linecap="butt"/>
<text class="b" x="292.60" y="909.30" font-size="9.4" text-anchor="end" textLength="11.20" lengthAdjust="spacingAndGlyphs">64</text>
<line x1="295.80" y1="905.50" x2="308.30" y2="905.50" stroke="#111" stroke-width="1.6" stroke-linecap="butt"/>
<text class="b" x="292.60" y="924.30" font-size="9.4" text-anchor="end" textLength="11.20" lengthAdjust="spacingAndGlyphs">37</text>
<line x1="295.80" y1="920.80" x2="308.30" y2="920.80" stroke="#111" stroke-width="1.6" stroke-linecap="butt"/>
<text class="b" x="297.00" y="940.50" font-size="9.9" textLength="18.50" lengthAdjust="spacingAndGlyphs">EPO</text>
<text class="b" x="329.65" y="942.00" font-size="9.3" textLength="5.70" lengthAdjust="spacingAndGlyphs">0</text>
<text class="b" x="360.80" y="939.40" font-size="9.3" textLength="11.00" lengthAdjust="spacingAndGlyphs">10</text>
<text class="b" x="389.00" y="939.40" font-size="9.3" textLength="11.00" lengthAdjust="spacingAndGlyphs">20</text>
<text class="b" x="417.80" y="939.40" font-size="9.3" textLength="11.00" lengthAdjust="spacingAndGlyphs">40</text>
<text class="b" x="447.80" y="942.00" font-size="9.3" textLength="11.00" lengthAdjust="spacingAndGlyphs">80</text>
<text class="b" x="463.30" y="941.00" font-size="9.5" textLength="21.60" lengthAdjust="spacingAndGlyphs">mins</text>
<text class="b" x="477.50" y="887.50" font-size="9.4" textLength="40.80" lengthAdjust="spacingAndGlyphs">p-ERK1,2</text>
<text class="b" x="480.00" y="915.50" font-size="9.4" textLength="31.80" lengthAdjust="spacingAndGlyphs">ERK1,2</text>
</svg>
</body>
</html>
